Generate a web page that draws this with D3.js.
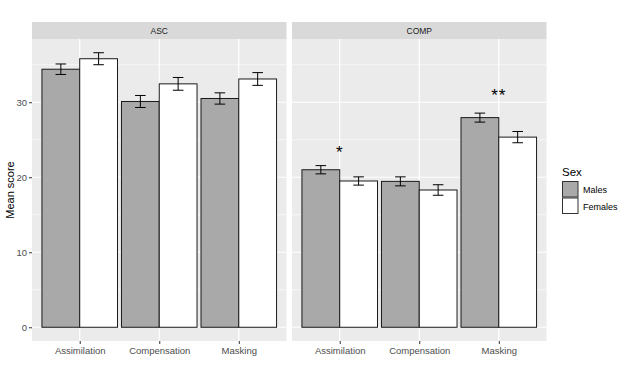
<!DOCTYPE html>
<html>
<head>
<meta charset="utf-8">
<script src="https://cdn.jsdelivr.net/npm/d3@7"></script>
<style>
  body { margin: 0; background: #fff; }
  text { font-family: "Liberation Sans", Arial, sans-serif; }
</style>
</head>
<body>
<svg id="chart" width="627" height="376"></svg>
<script>
// data
const facets = ["ASC", "COMP"];
const categories = ["Assimilation", "Compensation", "Masking"];
const sexes = ["Males", "Females"];
const fills = ["#A9A9A9", "#FFFFFF"];

const ascMeans = { Males: [34.4, 30.1, 30.5], Females: [35.8, 32.45, 33.1] };
const ascErr = { Males: [0.7, 0.8, 0.75], Females: [0.8, 0.85, 0.85] };
const compMeans = { Males: [21.0, 19.45, 27.95], Females: [19.5, 18.3, 25.35] };
const compErr = { Males: [0.55, 0.6, 0.6], Females: [0.55, 0.7, 0.75] };

const sigLabels = [
  { facet: "COMP", category: "Assimilation", label: "*", y: 22.6 },
  { facet: "COMP", category: "Masking", label: "**", y: 30.2 }
];

const yTicks = [0, 10, 20, 30];
const yMinor = [5, 15, 25, 35];

const rows = [];
facets.forEach(f => {
  const m = f === "ASC" ? ascMeans : compMeans;
  const e = f === "ASC" ? ascErr : compErr;
  categories.forEach((c, i) => {
    sexes.forEach(s => rows.push({ facet: f, category: c, sex: s, mean: m[s][i], se: e[s][i] }));
  });
});

const svg = d3.select("#chart");
const panelTop = 39, panelBottom = 341, stripH = 17;
const panels = { ASC: [32, 286.5], COMP: [292, 546.5] };

const ymax = d3.max(rows, d => d.mean + d.se);
const pad = ymax * 0.05;
const y = d3.scaleLinear().domain([-pad, ymax + pad]).range([panelBottom, panelTop]);

facets.forEach(f => {
  const [x0, x1] = panels[f];
  const x = d3.scalePoint().domain(categories).range([x0, x1]).padding(0.6);
  const groupW = x.step() * 0.95;
  const xs = d3.scaleBand().domain(sexes).range([-groupW / 2, groupW / 2]);
  const g = svg.append("g");

  // panel background + grid
  g.append("rect").attr("x", x0).attr("y", panelTop).attr("width", x1 - x0)
    .attr("height", panelBottom - panelTop).attr("fill", "#EBEBEB");
  g.selectAll(".minor").data(yMinor).join("line")
    .attr("x1", x0).attr("x2", x1).attr("y1", d => y(d)).attr("y2", d => y(d))
    .attr("stroke", "#fff").attr("stroke-width", 0.6);
  g.selectAll(".major").data(yTicks).join("line")
    .attr("x1", x0).attr("x2", x1).attr("y1", d => y(d)).attr("y2", d => y(d))
    .attr("stroke", "#fff").attr("stroke-width", 1.2);
  g.selectAll(".vmajor").data(categories).join("line")
    .attr("x1", d => x(d)).attr("x2", d => x(d)).attr("y1", panelTop).attr("y2", panelBottom)
    .attr("stroke", "#fff").attr("stroke-width", 1.2);

  // strip
  g.append("rect").attr("x", x0).attr("y", panelTop - stripH).attr("width", x1 - x0)
    .attr("height", stripH).attr("fill", "#D9D9D9");
  g.append("text").attr("x", (x0 + x1) / 2).attr("y", panelTop - stripH / 2 + 3)
    .attr("text-anchor", "middle").attr("font-size", 8.5).attr("fill", "#1A1A1A").text(f);

  const data = rows.filter(d => d.facet === f);
  g.selectAll(".bar").data(data).join("rect")
    .attr("x", d => x(d.category) + xs(d.sex))
    .attr("width", xs.bandwidth())
    .attr("y", d => y(d.mean))
    .attr("height", d => y(0) - y(d.mean))
    .attr("fill", d => fills[sexes.indexOf(d.sex)])
    .attr("stroke", "#1a1a1a").attr("stroke-width", 1);

  const capW = xs.bandwidth() * 0.14;
  const eb = g.selectAll(".err").data(data).join("g")
    .attr("transform", d => `translate(${x(d.category) + xs(d.sex) + xs.bandwidth() / 2},0)`)
    .attr("stroke", "#000").attr("stroke-width", 1);
  eb.append("line").attr("y1", d => y(d.mean - d.se)).attr("y2", d => y(d.mean + d.se));
  eb.append("line").attr("x1", -capW).attr("x2", capW).attr("y1", d => y(d.mean + d.se)).attr("y2", d => y(d.mean + d.se));
  eb.append("line").attr("x1", -capW).attr("x2", capW).attr("y1", d => y(d.mean - d.se)).attr("y2", d => y(d.mean - d.se));

  g.selectAll(".sig").data(sigLabels.filter(d => d.facet === f)).join("text")
    .attr("x", d => x(d.category)).attr("y", d => y(d.y))
    .attr("text-anchor", "middle").attr("font-size", 17).attr("fill", "#000")
    .attr("letter-spacing", 1)
    .text(d => d.label);

  // x axis
  const xa = g.append("g").attr("transform", `translate(0,${panelBottom})`)
    .call(d3.axisBottom(x).tickSize(3).tickPadding(3));
  xa.select(".domain").remove();
  xa.selectAll("line").attr("stroke", "#333");
  xa.selectAll("text").attr("font-size", 9.5).attr("fill", "#4D4D4D")
    .attr("font-family", "Liberation Sans, Arial, sans-serif");

  if (f === "ASC") {
    const ya = g.append("g").attr("transform", `translate(${x0},0)`)
      .call(d3.axisLeft(y).tickValues(yTicks).tickSize(3).tickPadding(2));
    ya.select(".domain").remove();
    ya.selectAll("line").attr("stroke", "#333");
    ya.selectAll("text").attr("font-size", 9.5).attr("fill", "#4D4D4D")
      .attr("font-family", "Liberation Sans, Arial, sans-serif");
  }
});

// y title
svg.append("text").attr("transform", `translate(14,${(panelTop + panelBottom) / 2}) rotate(-90)`)
  .attr("text-anchor", "middle").attr("font-size", 11).attr("fill", "#000").text("Mean score");

// legend
const lg = svg.append("g").attr("transform", "translate(562,0)");
lg.append("text").attr("x", 0).attr("y", 176).attr("font-size", 11.5).attr("fill", "#000").text("Sex");
const li = lg.selectAll(".li").data(sexes).join("g")
  .attr("transform", (d, i) => `translate(0,${181.5 + i * 16.5})`);
li.append("rect").attr("x", 0.5).attr("y", 0).attr("width", 15.5).attr("height", 15.5)
  .attr("fill", (d, i) => fills[i]).attr("stroke", "#333").attr("stroke-width", 1);
li.append("text").attr("x", 21).attr("y", 11.5).attr("font-size", 9).attr("fill", "#000").text(d => d);
</script>
</body>
</html>
